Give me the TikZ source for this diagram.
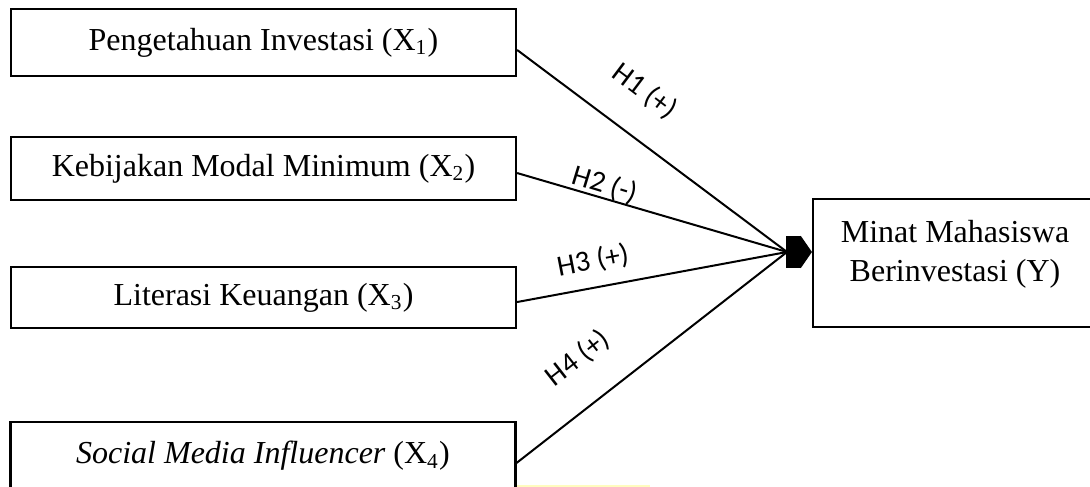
\documentclass[tikz,border=0pt]{standalone}
\usepackage{fontspec}
\setmainfont{Liberation Serif}
\newfontfamily\hipfont{Carlito}
\usetikzlibrary{arrows.meta}

\begin{document}
\begin{tikzpicture}[x=0.375pt,y=-0.375pt,
		varbox/.style={draw,line width=0.8pt,minimum width=189.4pt,font=\fontsize{12}{14.5}\selectfont},
		link/.style={line width=0.75pt},
		hyp/.style={font=\hipfont\fontsize{11}{13}\selectfont,inner sep=0pt}]
		\clip (0,0) rectangle (1090,487);
		\fill[yellow!25] (517,485) rectangle (650,488);
		\node[varbox,minimum height=25.1pt] (peng) at (263.5,42.5) {Pengetahuan Investasi (X\textsubscript{1})};
		\node[varbox,minimum height=23.6pt] (kebij) at (263.5,168.5) {Kebijakan Modal Minimum (X\textsubscript{2})};
		\node[varbox,minimum height=22.9pt] (lit) at (263.5,297.5) {Literasi Keuangan (X\textsubscript{3})};
		\node[varbox,minimum height=25.5pt] (smi) at (263,456) {\textit{Social Media Influencer} (X\textsubscript{4})};
		\node[varbox,minimum width=106.5pt,minimum height=48pt] (minat) at (955,263) {};
		\node[align=center,font=\fontsize{12}{14.5}\selectfont] (minattext) at (955,254) {Minat Mahasiswa\\Berinvestasi (Y)};
		\coordinate (hub) at (787,252);
		\draw[link] ([yshift=-2.8pt]peng.east) -- (hub);
		\draw[link] ([yshift=-1.7pt]kebij.east) -- (hub);
		\draw[link] ([yshift=-1.7pt]lit.east) -- (hub);
		\draw[link] ([yshift=-2.6pt]smi.east) -- (hub);
		\draw[link,-{Square[length=5.6pt,width=12pt]Triangle[length=4.2pt,width=12pt]}] (hub) -- (minat.west |- hub);
		\node[hyp,rotate=-37] (h1) at (645,91) {H1 (+)};
		\node[hyp,rotate=-17] (h2) at (605,185) {H2 (-)};
		\node[hyp,rotate=11] (h3) at (593,261) {H3 (+)};
		\node[hyp,rotate=38] (h4) at (578,358) {H4 (+)};
	\end{tikzpicture}
\end{document}
